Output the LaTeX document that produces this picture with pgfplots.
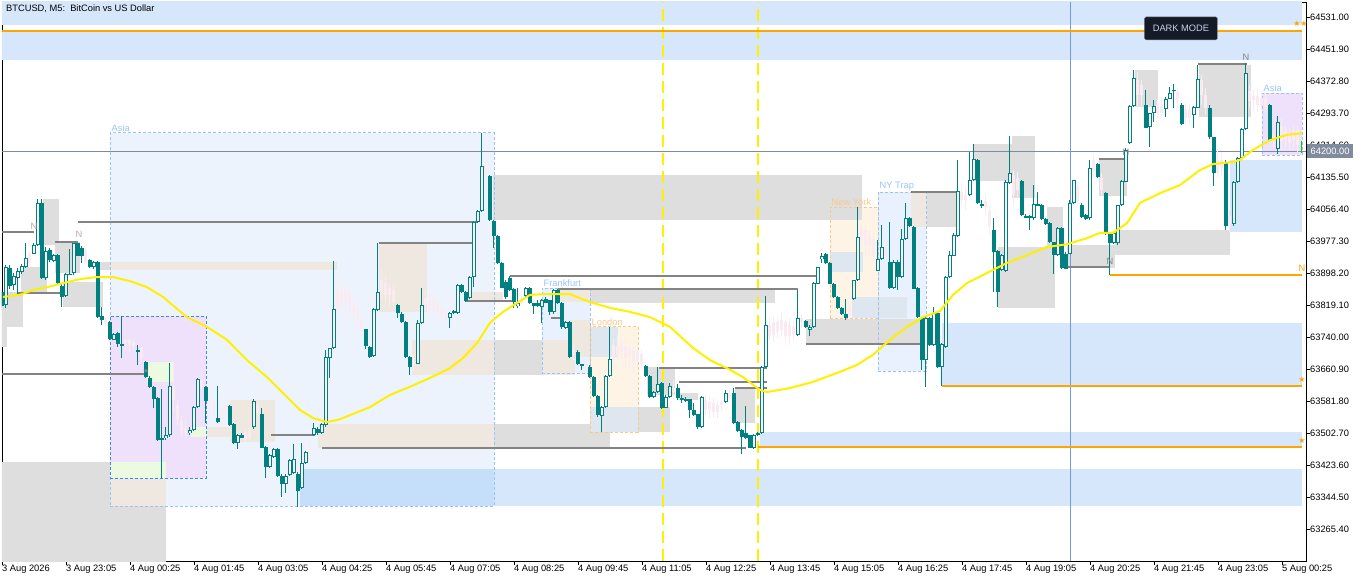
\documentclass[border=0pt]{standalone}
\usepackage{fontspec}
\setmainfont{Liberation Sans}
\newfontfamily\dejavu{DejaVu Sans}
\usepackage{pgfplots}
\usepackage{pgfplotstable}
\pgfplotsset{compat=1.18}

\definecolor{zblue}{RGB}{214,230,251}
\definecolor{zblueD}{RGB}{197,223,250}
\definecolor{zgray}{RGB}{222,222,222}
\definecolor{zbeige}{RGB}{239,232,224}
\definecolor{zgreen}{RGB}{235,250,224}
\definecolor{zbgray}{RGB}{222,230,240}
\definecolor{asiaF}{RGB}{236,243,253}
\definecolor{asiaB}{RGB}{157,195,246}
\definecolor{lavF}{RGB}{239,225,251}
\definecolor{lavB}{RGB}{64,135,242}
\definecolor{frF}{RGB}{232,241,253}
\definecolor{orF}{RGB}{254,244,230}
\definecolor{orB}{RGB}{252,200,138}
\definecolor{lvl}{RGB}{131,131,131}
\definecolor{orng}{RGB}{255,165,0}
\definecolor{maY}{RGB}{255,240,0}
\definecolor{cTeal}{RGB}{0,128,128}
\definecolor{faint}{RGB}{252,234,241}
\definecolor{pline}{RGB}{128,140,158}
\definecolor{vblue}{RGB}{110,155,240}
\definecolor{nlab}{RGB}{200,168,170}
\definecolor{darkbtn}{RGB}{20,26,38}
\definecolor{dmtext}{RGB}{200,212,232}

\newcommand{\tf}{\fontsize{9.3pt}{11pt}\selectfont}
\newcommand{\zone}[5]{\addplot[draw=none,fill=#1] coordinates {(#2,#4) (#3,#4) (#3,#5) (#2,#5)};}
\newcommand{\sessline}[5]{\addplot[draw=#1,line width=0.8pt,dash pattern=on 3pt off 2pt] coordinates {(#2,#4) (#3,#4) (#3,#5) (#2,#5) (#2,#4)};}
\newcommand{\hlev}[4]{\addplot[#1] coordinates {(#2,#4) (#3,#4)};}
\pgfplotsset{candle/.style={draw=none, mark=none, error bars/y dir=both, error bars/y explicit, error bars/error mark=none, error bars/error bar style={#1}}}

% M5 candles: bar index, open, high, low, close, type (0 bear, 1 bull, 2 faint, 3 live)
\pgfplotstableread{
i o h l c t
0 63852 63857 63813 63818 0
1 63820 63919 63813 63914 1
2 63914 63921 63862 63869 0
3 63869 63899 63857 63891 1
4 63889 63911 63845 63906 1
5 63901 63921 63896 63916 1
6 63914 63973 63911 63936 1
7 63926 63956 63921 63951 2
8 63948 63973 63946 63968 1
9 63968 64082 63966 64072 1
10 64072 64082 63884 63887 0
11 63887 63963 63882 63956 1
12 63956 63961 63926 63931 0
13 63929 63948 63926 63943 1
14 63943 63946 63872 63874 0
15 63869 63874 63815 63840 0
16 63842 63899 63840 63896 1
17 63899 63958 63894 63896 0
18 63899 63975 63896 63973 1
19 63973 63975 63941 63943 0
20 63961 63966 63924 63943 0
21 63956 63961 63921 63926 2
22 63931 63934 63911 63914 0
23 63914 63929 63911 63926 1
24 63926 63929 63788 63790 0
25 63793 63815 63771 63785 0
26 63785 63788 63768 63778 2
27 63778 63783 63734 63736 0
28 63736 63753 63734 63751 1
29 63751 63753 63716 63724 0
30 63721 63793 63689 63726 1
31 63726 63739 63709 63734 2
32 63734 63739 63704 63721 2
33 63721 63736 63709 63729 2
34 63709 63721 63672 63706 0
35 63714 63721 63679 63689 2
36 63679 63682 63640 63642 0
37 63642 63645 63615 63618 0
38 63618 63620 63566 63590 0
39 63590 63593 63484 63487 0
40 63494 63613 63393 63489 0
41 63492 63519 63487 63499 1
42 63499 63679 63496 63620 1
43 63620 63679 63561 63585 2
44 63573 63585 63524 63536 2
45 63536 63548 63499 63511 2
46 63516 63536 63497 63506 2
47 63504 63519 63501 63511 1
48 63511 63571 63509 63568 1
49 63568 63642 63566 63637 1
50 63635 63637 63610 63618 2
51 63618 63622 63529 63585 0
52 63585 63622 63529 63580 2
53 63580 63590 63548 63561 2
54 63543 63622 63529 63531 0
55 63561 63566 63531 63536 2
56 63556 63578 63541 63573 2
57 63573 63575 63524 63526 0
58 63526 63529 63477 63479 0
59 63482 63504 63467 63501 1
60 63501 63504 63492 63494 0
61 63506 63511 63482 63487 2
62 63492 63516 63484 63511 2
63 63519 63588 63516 63585 1
64 63573 63578 63548 63556 2
65 63551 63566 63467 63469 0
66 63469 63472 63393 63420 0
67 63420 63452 63418 63450 1
68 63445 63467 63442 63465 1
69 63465 63467 63395 63398 0
70 63400 63403 63346 63378 0
71 63378 63403 63356 63400 1
72 63403 63442 63400 63440 1
73 63405 63479 63403 63440 1
74 63405 63408 63321 63363 0
75 63368 63479 63366 63430 1
76 63430 63460 63427 63457 1
77 63457 63487 63447 63472 2
78 63499 63529 63496 63516 1
79 63516 63519 63501 63504 0
80 63504 63529 63501 63526 1
81 63524 63709 63521 63692 1
82 63689 63716 63642 63714 1
83 63714 63929 63711 63810 1
84 63813 63894 63803 63857 2
85 63852 63869 63808 63832 2
86 63832 63877 63788 63857 2
87 63852 63862 63783 63820 2
88 63820 63837 63776 63803 2
89 63808 63827 63771 63788 2
90 63788 63795 63753 63763 2
91 63761 63763 63714 63719 0
92 63719 63721 63689 63694 0
93 63694 63813 63692 63810 1
94 63808 63973 63805 63852 1
95 63852 63906 63832 63882 2
96 63877 63894 63827 63845 2
97 63845 63877 63820 63862 2
98 63857 63869 63818 63827 2
99 63822 63825 63790 63800 0
100 63800 63803 63776 63778 0
101 63778 63781 63689 63692 0
102 63692 63694 63647 63667 0
103 63669 63696 63659 63684 2
104 63677 63783 63674 63776 1
105 63776 63862 63773 63820 1
106 63820 63857 63803 63837 2
107 63832 63845 63795 63808 2
108 63813 63852 63798 63832 2
109 63827 63837 63788 63803 2
110 63808 63820 63778 63793 2
111 63795 63808 63771 63788 2
112 63788 63803 63763 63800 1
113 63805 63808 63798 63800 0
114 63800 63874 63798 63869 1
115 63869 63872 63850 63852 0
116 63852 63855 63830 63832 0
117 63837 63892 63835 63889 1
118 63889 64027 63864 64025 1
119 64025 64055 64022 64052 1
120 64052 64245 64050 64163 1
121 64163 64178 64129 64139 2
122 64139 64141 64027 64030 0
123 64030 64032 63961 63993 0
124 63993 63995 63921 63924 0
125 63924 63926 63862 63864 0
126 63879 63882 63837 63840 0
127 63887 63892 63855 63857 0
128 63859 63862 63813 63827 0
129 63818 63862 63813 63825 1
130 63825 63845 63818 63837 2
131 63842 63864 63840 63862 1
132 63862 63864 63822 63825 0
133 63825 63827 63800 63818 0
134 63825 63832 63815 63818 0
135 63815 63835 63776 63832 1
136 63837 63840 63825 63827 0
137 63832 63835 63798 63803 0
138 63803 63860 63800 63857 1
139 63857 63860 63825 63827 0
140 63827 63830 63763 63766 0
141 63763 63781 63761 63778 1
142 63778 63781 63689 63692 0
143 63697 63721 63684 63709 2
144 63706 63709 63672 63677 0
145 63674 63677 63660 63672 0
146 63672 63679 63655 63664 2
147 63667 63672 63640 63642 0
148 63642 63645 63593 63595 0
149 63595 63598 63543 63548 0
150 63548 63571 63506 63568 1
151 63568 63647 63566 63645 1
152 63645 63766 63642 63687 1
153 63684 63739 63672 63721 2
154 63721 63746 63679 63697 2
155 63704 63741 63684 63729 2
156 63721 63734 63664 63689 2
157 63694 63729 63669 63714 2
158 63709 63721 63655 63679 2
159 63684 63714 63664 63704 2
160 63699 63709 63659 63674 2
161 63669 63672 63642 63645 0
162 63645 63647 63590 63593 0
163 63593 63608 63590 63605 1
164 63605 63667 63603 63627 1
165 63627 63630 63563 63566 0
166 63568 63598 63566 63595 1
167 63593 63627 63590 63620 1
168 63615 63635 63595 63605 2
169 63615 63627 63588 63590 0
170 63590 63598 63580 63588 0
171 63589 63593 63580 63585 0
172 63588 63590 63543 63561 0
173 63561 63580 63546 63548 0
174 63551 63553 63516 63519 0
175 63521 63598 63519 63595 1
176 63585 63598 63548 63561 2
177 63561 63593 63543 63580 2
178 63580 63590 63541 63556 2
179 63556 63585 63541 63573 2
180 63573 63590 63561 63580 2
181 63580 63610 63578 63603 1
182 63603 63610 63585 63590 2
183 63603 63615 63526 63529 0
184 63531 63534 63506 63509 0
185 63511 63514 63452 63494 0
186 63506 63571 63489 63492 0
187 63499 63501 63467 63469 0
188 63469 63504 63467 63501 1
189 63499 63506 63496 63504 1
190 63504 63669 63501 63667 1
191 63667 63842 63664 63771 1
192 63771 63788 63734 63746 2
193 63746 63793 63729 63778 2
194 63778 63788 63739 63753 2
195 63758 63803 63744 63783 2
196 63778 63788 63729 63744 2
197 63746 63788 63721 63771 2
198 63768 63783 63734 63749 2
199 63746 63857 63744 63788 1
200 63788 63795 63763 63778 2
201 63780 63783 63763 63766 0
202 63758 63771 63746 63766 1
203 63766 63877 63763 63874 1
204 63874 63916 63872 63914 1
205 63934 63951 63926 63943 1
206 63946 63948 63921 63924 0
207 63924 63926 63872 63874 0
208 63872 63874 63837 63840 0
209 63840 63842 63810 63813 0
210 63813 63815 63795 63798 0
211 63798 63837 63785 63788 0
212 63793 63827 63783 63813 2
213 63837 63884 63835 63882 1
214 63882 64062 63879 63988 1
215 63980 64022 63961 64010 2
216 64005 64017 63943 63968 2
217 63968 64005 63936 63993 2
218 63985 64000 63924 63943 2
219 63906 63980 63904 63934 1
220 63934 64017 63931 63963 1
221 63961 63975 63931 63943 2
222 63926 64025 63860 63862 0
223 63862 63931 63860 63926 1
224 63926 63931 63857 63889 0
225 63889 64008 63887 63983 1
226 63983 64072 63980 64035 1
227 64035 64037 64013 64015 0
228 64015 64017 63860 63862 0
229 63862 63864 63788 63790 0
230 63790 63793 63660 63684 0
231 63684 63793 63618 63790 1
232 63788 63790 63719 63721 0
233 63721 63815 63719 63800 1
234 63800 63803 63665 63667 0
235 63667 63726 63622 63724 1
236 63716 63892 63714 63889 1
237 63889 63956 63887 63943 1
238 63943 63998 63941 63995 1
239 63993 64180 63990 64104 1
240 64099 64116 64067 64079 2
241 64079 64109 64055 64092 2
242 64092 64198 64089 64129 1
243 64129 64217 64126 64180 1
244 64178 64180 64069 64072 0
245 64069 64079 64059 64064 0
246 64064 64092 64042 64079 2
247 64055 64067 63993 64017 2
248 64005 64035 63852 63951 0
249 63953 63956 63815 63852 0
250 63906 63946 63904 63943 1
251 63906 64129 63904 64124 1
252 64121 64237 64119 64146 1
253 64141 64153 64067 64092 2
254 64104 64148 64079 64134 2
255 64126 64129 64040 64042 0
256 64042 64045 64035 64037 0
257 64035 64042 64005 64040 1
258 64035 64116 64032 64069 1
259 64067 64099 64064 64069 1
260 64067 64069 64030 64032 0
261 64035 64037 64020 64022 0
262 64022 64025 63973 63975 0
263 63975 63978 63899 63943 0
264 63943 64013 63941 64010 1
265 64010 64013 63909 63911 0
266 63948 63951 63909 63911 0
267 63948 64079 63946 64074 1
268 64074 64131 64072 64129 1
269 64116 64124 64067 64079 2
270 64069 64072 64035 64037 0
271 64042 64045 64030 64032 0
272 64035 64178 64032 64158 1
273 64153 64190 64134 64178 2
274 64168 64171 64134 64136 0
275 64134 64148 64092 64104 2
276 64097 64099 63995 63998 0
277 63998 64000 63894 63973 0
278 63973 64000 63970 63998 1
279 63973 64069 63970 64067 1
280 64067 64129 64064 64126 1
281 64126 64208 64124 64203 1
282 64220 64314 64217 64311 1
283 64311 64400 64309 64380 1
284 64376 64395 64301 64338 2
285 64338 64376 64306 64363 2
286 64314 64351 64257 64259 0
287 64259 64296 64210 64294 1
288 64294 64326 64272 64311 1
289 64314 64326 64282 64296 2
290 64296 64331 64287 64314 2
291 64306 64334 64284 64331 1
292 64331 64358 64329 64346 1
293 64348 64368 64309 64351 1
294 64346 64356 64306 64326 2
295 64316 64319 64264 64269 0
296 64282 64321 64264 64306 2
297 64301 64316 64264 64282 2
298 64289 64311 64257 64309 1
299 64309 64412 64306 64380 1
300 64376 64388 64314 64338 2
301 64338 64356 64289 64306 2
302 64306 64314 64232 64235 0
303 64235 64237 64116 64148 0
304 64148 64203 64134 64178 2
305 64178 64198 64141 64158 2
306 64173 64178 64005 64015 0
307 64015 64055 64000 64042 2
308 64020 64126 64015 64124 1
309 64124 64185 64121 64183 1
310 64183 64257 64180 64254 1
311 64254 64417 64252 64393 1
312 64351 64363 64306 64326 2
313 64326 64351 64301 64338 2
314 64338 64351 64296 64314 2
315 64314 64346 64301 64331 2
316 64331 64343 64296 64311 2
317 64314 64316 64225 64227 0
318 64227 64252 64208 64240 2
319 64205 64287 64193 64272 1
320 64264 64282 64203 64227 2
321 64232 64264 64208 64252 2
322 64247 64259 64203 64222 2
323 64227 64264 64208 64252 2
324 64252 64262 64198 64215 2
325 64227 64227 64195 64200 3
}\candles

\begin{document}
\begin{tikzpicture}
\path[use as bounding box, fill=white] (-2pt,-21pt) rectangle (1364pt,561pt);
\begin{axis}[
  at={(0pt,0pt)}, anchor=south west,
  scale only axis, width=1304pt, height=559pt,
  xmin=0, xmax=326, ymin=63188, ymax=64568,
  clip mode=individual,
  scaled y ticks=false, scaled x ticks=false,
  axis line style={black, line width=0.8pt},
  tick align=outside, major tick length=4pt,
  tick style={black, line width=0.8pt},
  xtick pos=left, ytick pos=right, yticklabel pos=right,
  xtick={0,16,...,320},
  xticklabels={3 Aug 2026, 3 Aug 23:05, 4 Aug 00:25, 4 Aug 01:45, 4 Aug 03:05, 4 Aug 04:25, 4 Aug 05:45, 4 Aug 07:05, 4 Aug 08:25, 4 Aug 09:45, 4 Aug 11:05, 4 Aug 12:25, 4 Aug 13:45, 4 Aug 15:05, 4 Aug 16:25, 4 Aug 17:45, 4 Aug 19:05, 4 Aug 20:25, 4 Aug 21:45, 4 Aug 23:05, 5 Aug 00:25},
  ytick={63265.4,63344.5,63423.6,63502.7,63581.8,63660.9,63740,63819.1,63898.2,63977.3,64056.4,64135.5,64214.6,64293.7,64372.8,64451.9,64531},
  xticklabel style={anchor=north west, inner sep=0pt, font=\tf},
  yticklabel style={anchor=west, inner sep=0pt, font=\tf,
    /pgf/number format/fixed, /pgf/number format/fixed zerofill,
    /pgf/number format/precision=2, /pgf/number format/1000 sep={},
    /pgf/number format/assume math mode=true},
]
% session fills
\zone{zblue}{-1}{325}{64511}{64570}
\zone{zblue}{-1}{325}{64425}{64494}
\zone{asiaF}{27}{123}{63324}{64245}
\zone{lavF}{27}{51}{63393}{63793}
\zone{lavF}{315}{325}{64190}{64343}
\zone{frF}{135}{147}{63652}{63862}
\zone{orF}{147}{159}{63506}{63766}
\zone{orF}{207}{219}{63788}{64062}
\zone{frF}{219}{231}{63657}{64099}
% blue zones
\zone{zblue}{307}{325}{64000}{64178}
\zone{zblue}{235}{325}{63622}{63776}
\zone{zblue}{189.5}{325}{63469}{63506}
\zone{zblue}{74.5}{325}{63324}{63415}
\zone{zblueD}{74.5}{123}{63324}{63415}
% gray / beige / green zones
\zone{zgray}{10.25}{14.25}{63968}{64082}
\zone{zgray}{4.75}{11.25}{63850}{63914}
\zone{zgray}{-1}{5.25}{63766}{63852}
\zone{zgray}{-1}{1.25}{63716}{63771}
\zone{zgray}{13.25}{19.5}{63899}{63975}
\zone{zgray}{15.25}{25.25}{63815}{63877}
\zone{zgray}{24.5}{27}{63906}{63926}
\zone{zbeige}{27}{83.75}{63906}{63926}
\zone{zgray}{122.75}{215}{64030}{64141}
\zone{zbeige}{94.25}{106.25}{63803}{63973}
\zone{zbeige}{116.25}{125.25}{63827}{63852}
\zone{zbeige}{102.5}{123}{63647}{63734}
\zone{zgray}{123}{135}{63647}{63734}
\zone{zbeige}{135}{143.25}{63647}{63734}
\zone{zbeige}{79}{123}{63467}{63526}
\zone{zgray}{123}{152}{63467}{63526}
\zone{zgray}{152}{167}{63506}{63568}
\zone{zbgray}{147}{159}{63506}{63568}
\zone{zbgray}{147}{154}{63692}{63766}
\zone{zbeige}{139}{147}{63827}{63860}
\zone{zbeige}{142}{147}{63692}{63783}
\zone{zgray}{147}{193.25}{63825}{63857}
\zone{zgray}{161.25}{168.25}{63598}{63667}
\zone{zgray}{169}{174}{63585}{63603}
\zone{zgray}{183.25}{188.25}{63529}{63618}
\zone{zgray}{201}{229.5}{63724}{63785}
\zone{zbgray}{207}{215.25}{63901}{63951}
\zone{zbgray}{212.5}{226.25}{63788}{63840}
\zone{zbeige}{227.25}{231.25}{64013}{64099}
\zone{zgray}{231.25}{239}{64013}{64099}
\zone{zgray}{243}{252.5}{64126}{64217}
\zone{zgray}{252.5}{258.25}{64084}{64237}
\zone{zgray}{249}{263.25}{63813}{63963}
\zone{zgray}{261.25}{265.25}{63963}{64062}
\zone{zgray}{266.25}{278.25}{63911}{63968}
\zone{zgray}{274.25}{281.25}{64089}{64180}
\zone{zgray}{278.25}{307}{63943}{64005}
\zone{zgray}{283.25}{289}{64309}{64400}
\zone{zgray}{299.25}{312.25}{64284}{64412}
\zone{zgray}{-1}{41}{63180}{63432}
\zone{zgreen}{27}{41}{63393}{63432}
\zone{zbeige}{27}{41}{63324}{63393}
\zone{zgreen}{36.25}{43}{63630}{63679}
\zone{zgreen}{47.25}{51.25}{63494}{63519}
\zone{zbeige}{51.25}{57.75}{63494}{63519}
\zone{zbeige}{57}{68.25}{63482}{63585}
% session borders
\sessline{asiaB}{27}{123}{63324}{64245}
\sessline{lavB}{27}{51}{63393}{63793}
\sessline{asiaB}{315}{325}{64190}{64343}
\sessline{asiaB}{135}{147}{63652}{63862}
\sessline{orB}{147}{159}{63506}{63766}
\sessline{orB}{207}{219}{63788}{64062}
\sessline{asiaB}{219}{231}{63657}{64099}
% current price line and vertical markers
\hlev{pline, line width=0.8pt}{-1}{327}{64200}
\addplot[maY, line width=1.3pt, dash pattern=on 12pt off 6pt] coordinates {(165.25,63188) (165.25,64568)};
\addplot[maY, line width=1.3pt, dash pattern=on 12pt off 6pt] coordinates {(189,63188) (189,64568)};
\addplot[vblue, line width=0.8pt] coordinates {(267,63188) (267,64568)};
% structure levels
\hlev{lvl, line width=2pt}{0}{8}{64000}
\hlev{lvl, line width=2pt}{13.25}{19}{63975}
\hlev{lvl, line width=2pt}{19}{119}{64026}
\hlev{lvl, line width=2pt}{4}{15.25}{63850}
\hlev{lvl, line width=2pt}{-1}{36.25}{63650}
\hlev{lvl, line width=2pt}{94.25}{118.25}{63973}
\hlev{lvl, line width=2pt}{116}{128.25}{63829}
\hlev{lvl, line width=2pt}{127}{203.75}{63892}
\hlev{lvl, line width=2pt}{139}{199}{63860}
\hlev{lvl, line width=2pt}{137.25}{140}{63789}
\hlev{lvl, line width=2pt}{67.25}{78.25}{63499}
\hlev{lvl, line width=2pt}{80}{186}{63468}
\hlev{lvl, line width=2pt}{164.25}{191.25}{63665}
\hlev{lvl, line width=2pt}{169.25}{191.25}{63629}
\hlev{lvl, line width=2pt}{183.25}{191.25}{63616}
\hlev{lvl, line width=2pt}{201}{230}{63724}
\hlev{lvl, line width=2pt}{227.25}{239}{64099}
\hlev{lvl, line width=2pt}{266.25}{277}{63914}
\hlev{lvl, line width=2pt}{274.25}{281.25}{64180}
\hlev{lvl, line width=2pt}{299}{311.25}{64415}
\hlev{orng, line width=2pt}{-1}{325}{64496}
\hlev{orng, line width=2pt}{235}{325}{63621}
\hlev{orng, line width=2pt}{189}{325}{63469}
\hlev{orng, line width=2pt}{277}{325}{63893}
% candles: wicks, then bodies, then hollow centres of bull candles
\addplot[candle={draw=faint, line width=1pt}, restrict expr to domain={\thisrow{t}}{2:2}]
  table[x=i, y expr={(\thisrow{h}+\thisrow{l})/2}, y error expr={(\thisrow{h}-\thisrow{l})/2}] {\candles};
\addplot[candle={draw=faint, line width=3pt}, restrict expr to domain={\thisrow{t}}{2:2}]
  table[x=i, y expr={(\thisrow{o}+\thisrow{c})/2}, y error expr={max(abs(\thisrow{o}-\thisrow{c})/2,1.3)}] {\candles};
\addplot[candle={draw=cTeal, line width=1pt}, restrict expr to domain={\thisrow{t}}{0:1}]
  table[x=i, y expr={(\thisrow{h}+\thisrow{l})/2}, y error expr={(\thisrow{h}-\thisrow{l})/2}] {\candles};
\addplot[candle={draw=cTeal, line width=3.2pt}, restrict expr to domain={\thisrow{t}}{0:1}]
  table[x=i, y expr={(\thisrow{o}+\thisrow{c})/2}, y error expr={max(abs(\thisrow{o}-\thisrow{c})/2,1.3)}] {\candles};
\addplot[candle={draw=white, line width=1.2pt}, restrict expr to domain={\thisrow{t}}{1:1}]
  table[x=i, y expr={(\thisrow{o}+\thisrow{c})/2}, y error expr={max(abs(\thisrow{o}-\thisrow{c})/2-2.5,0)}] {\candles};
\addplot[candle={draw=green!80!black, line width=1pt}, restrict expr to domain={\thisrow{t}}{3:3}]
  table[x=i, y expr={(\thisrow{h}+\thisrow{l})/2}, y error expr={(\thisrow{h}-\thisrow{l})/2}] {\candles};
% moving average
\addplot[maY, line width=2pt] coordinates {
(0.25,63840) (4.5,63845) (7.75,63857) (11.25,63864) (15.25,63874) (19.5,63884)
(23.75,63889) (27.75,63889) (32,63879) (36.25,63864) (40.25,63840) (42,63825)
(46.25,63790) (51.25,63766) (56.25,63734) (61.25,63684) (66.25,63642) (71.25,63593)
(74.5,63561) (77.75,63541) (81.25,63531) (84.5,63538) (87,63548) (92,63568)
(97,63598) (102,63618) (107,63640) (112,63664) (115.25,63689) (118.75,63726)
(122,63776) (125.25,63803) (128.75,63825) (132,63845) (136.25,63847) (142,63847)
(147,63827) (152,63813) (157,63803) (162,63790) (167,63766) (172.75,63714)
(177,63684) (181.25,63664) (185.25,63642) (189.5,63610) (191.25,63605) (197,63615)
(202.75,63630) (209.5,63655) (213.75,63672) (217.75,63697) (222,63734) (226.25,63766)
(230.25,63790) (234.5,63805) (237.75,63845) (241.25,63874) (246.25,63899) (251.25,63924)
(256.25,63943) (261.25,63963) (266.25,63970) (271.25,63985) (274.5,63998) (277.75,63998)
(281.25,64022) (284.5,64072) (289.5,64096) (294.5,64116) (299.5,64153) (302.75,64168)
(307.75,64173) (309.5,64178) (312.75,64203) (317,64227) (321.25,64240) (325,64244)};
% labels
\node[anchor=west, inner sep=0pt, font=\tf] at (axis cs:1,64551) {BTCUSD, M5:\ \ BitCoin vs US Dollar};
\node[anchor=south west, inner sep=0.5pt, text=asiaB, font=\tf] at (axis cs:27.25,64247) {Asia};
\node[anchor=south west, inner sep=0.5pt, text=asiaB, font=\tf] at (axis cs:135.25,63864) {Frankfurt};
\node[anchor=south west, inner sep=0.5pt, text=orB, font=\tf] at (axis cs:147.25,63768) {London};
\node[anchor=south west, inner sep=0.5pt, text=orB, font=\tf] at (axis cs:207.25,64064) {New York};
\node[anchor=south west, inner sep=0.5pt, text=asiaB, font=\tf] at (axis cs:219.25,64101) {NY Trap};
\node[anchor=south west, inner sep=0.5pt, text=asiaB, font=\tf] at (axis cs:315.25,64346) {Asia};
\node[text=nlab, font=\tf, inner sep=0pt] at (axis cs:8,64015) {N};
\node[text=nlab, font=\tf, inner sep=0pt] at (axis cs:19.25,63995) {N};
\node[text=lvl, font=\tf, inner sep=0pt] at (axis cs:277,63929) {N};
\node[text=lvl, font=\tf, inner sep=0pt] at (axis cs:311,64432) {N};
\node[text=orng, font=\tf, inner sep=0pt] at (axis cs:325,63911) {N};
\node[text=lvl, font=\tf, inner sep=0pt] at (axis cs:281,64198) {H};
\node[text=lvl, font=\dejavu\fontsize{7pt}{7pt}\selectfont, inner sep=0pt] at (axis cs:36,63657) {★};
\node[text=orng, font=\dejavu\fontsize{8pt}{8pt}\selectfont, inner sep=0pt] at (axis cs:323.75,64514) {★};
\node[text=orng, font=\dejavu\fontsize{8pt}{8pt}\selectfont, inner sep=0pt] at (axis cs:325.5,64514) {★};
\node[text=orng, font=\dejavu\fontsize{8pt}{8pt}\selectfont, inner sep=0pt] at (axis cs:325,63635) {★};
\node[text=orng, font=\dejavu\fontsize{8pt}{8pt}\selectfont, inner sep=0pt] at (axis cs:325,63484) {★};
\node[fill=darkbtn, draw=gray, text=dmtext, font=\tf, minimum width=73pt, minimum height=23pt, inner sep=0pt, rounded corners=1.5pt] at (axis cs:294.75,64503) {DARK MODE};
\coordinate (pbox) at (axis cs:326,64200);
\end{axis}
\node[anchor=west, fill=pline, text=white, font=\tf, inner xsep=4pt, minimum height=14pt, inner ysep=0pt, xshift=0.5pt] at (pbox) {64200.00};
\end{tikzpicture}
\end{document}
